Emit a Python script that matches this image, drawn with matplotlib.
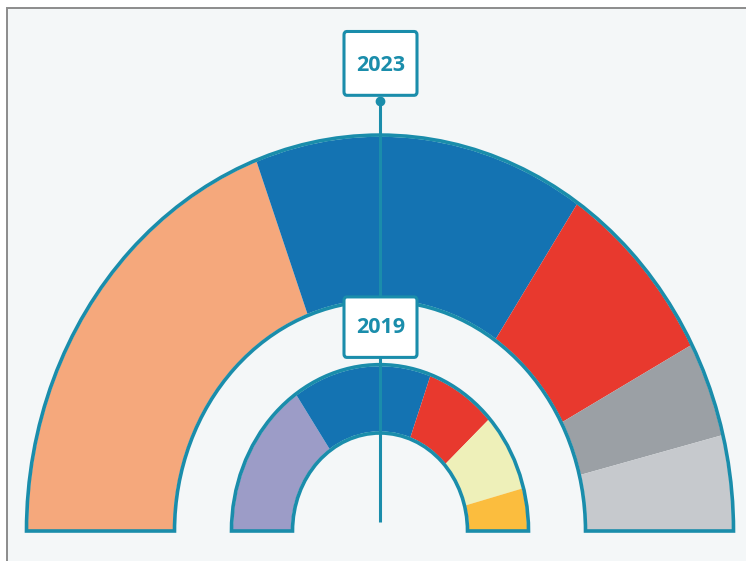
import matplotlib
matplotlib.use('Agg')
import matplotlib.pyplot as plt
from matplotlib.patches import Wedge, FancyBboxPatch, Rectangle

# share of the semicircle for each party (percent), left to right
years = ['2023', '2019']
shares_2023 = [38.6, 30.3, 15.5, 7.8, 7.8]
colors_2023 = ['#f5a87c', '#1473b2', '#e8392e', '#9ba0a5', '#c6c9cd']
shares_2019 = [30.8, 30.3, 15.3, 15.3, 8.3]
colors_2019 = ['#9c9cc7', '#1473b2', '#e8392e', '#eef0b9', '#fbbd3e']

TEAL = '#1a8dab'
BG = '#f4f7f8'
# y is stretched in the original picture
STRETCH = 1.12

fig = plt.figure(figsize=(7.46, 5.61), dpi=100)
fig.patch.set_facecolor('white')
# panel background with thin grey frame on left / top only
fig.patches.append(Rectangle((7 / 746, -0.05), 1.1, 1 - 8 / 561 + 0.05,
                             transform=fig.transFigure, facecolor=BG,
                             edgecolor='#8c8c8c', lw=1.4, zorder=-1))

ax = fig.add_axes([0, 0, 1, 1])
ax.set_facecolor('none')
ax.set_xlim(-380, 366)
ax.set_ylim(-30 / STRETCH, 531 / STRETCH)
ax.axis('off')


def draw_ring(shares, colors, r_out, r_in):
    total = sum(shares)
    start = 180.0
    for s, c in zip(shares, colors):
        span = 180.0 * s / total
        ax.add_patch(Wedge((0, 0), r_out, start - span, start, width=r_out - r_in,
                           facecolor=c, edgecolor='none', zorder=2))
        start -= span
    # outline round the whole ring
    ax.add_patch(Wedge((0, 0), r_out + 1.5, 0, 180, width=r_out - r_in + 3,
                       fill=False, edgecolor=TEAL, lw=2.6, zorder=3))


draw_ring(shares_2023, colors_2023, 352, 207)
draw_ring(shares_2019, colors_2019, 147, 89)

# pointer line from the 2023 label down to the centre
ax.plot([0, 0], [8, 385], color=TEAL, lw=2.2, zorder=4, solid_capstyle='butt')
ax.plot([0], [384], marker='o', ms=6, color=TEAL, zorder=4)


def label_box(text, y0, y1, yt):
    ax.add_patch(FancyBboxPatch((-36, y0), 73, y1 - y0,
                                boxstyle='round,pad=0,rounding_size=3',
                                facecolor='white', edgecolor=TEAL, lw=2.2, zorder=5))
    ax.text(0.5, yt, text, ha='center', va='center', color=TEAL,
            fontsize=15.5, fontweight='bold', family=['Open Sans', 'DejaVu Sans'],
            zorder=6)


label_box(years[0], 389, 446, 416)
label_box(years[1], 155, 209, 182)

fig.savefig('out.png', dpi=100, facecolor=fig.get_facecolor())
